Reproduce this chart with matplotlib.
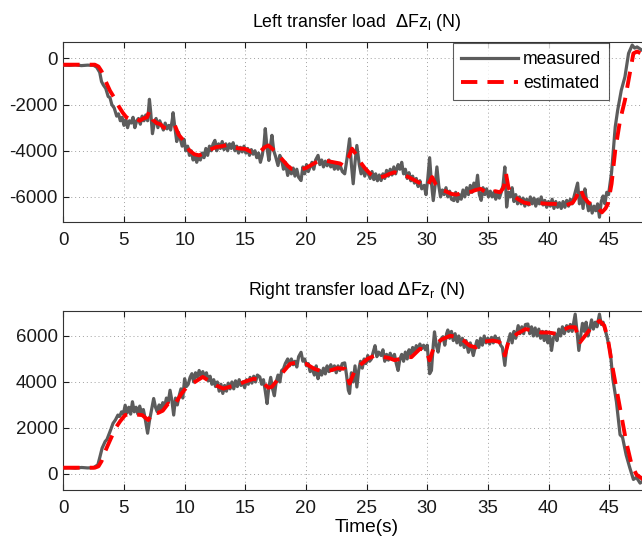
import numpy as np
import matplotlib
matplotlib.use("Agg")
import matplotlib.pyplot as plt

plt.rcParams["font.family"] = ["Liberation Sans", "DejaVu Sans"]
plt.rcParams["axes.unicode_minus"] = False

# (time [s], load [N]) samples of the left wheel transfer load
left_measured = [
    (0.0, -290), (0.5, -300), (1.0, -280), (1.5, -310), (2.0, -290), (2.5, -300),
    (2.75, -380), (3.0, -600), (3.15, -1000), (3.3, -1150), (3.5, -1300), (3.7, -1650),
    (3.85, -1700), (4.0, -2000), (4.2, -2150), (4.4, -2500), (4.55, -2400), (4.7, -2700),
    (4.85, -2550), (5.0, -2900), (5.15, -2650), (5.3, -3000), (5.45, -2700), (5.6, -2800),
    (5.75, -2550), (5.9, -3000), (6.05, -2700), (6.2, -2600), (6.35, -2850), (6.5, -2500),
    (6.65, -2700), (6.8, -2450), (6.95, -2700), (7.1, -1770), (7.2, -2300), (7.35, -3260),
    (7.5, -2800), (7.65, -2600), (7.8, -3000), (7.95, -2700), (8.1, -2900), (8.25, -3100),
    (8.4, -2800), (8.55, -3050), (8.7, -2900), (8.85, -3100), (9.0, -2600), (9.05, -2350),
    (9.2, -3000), (9.35, -3600), (9.5, -3200), (9.65, -3500), (9.8, -3800), (9.95, -3500),
    (10.1, -4000), (10.25, -3800), (10.4, -4200), (10.55, -4000), (10.7, -4400), (10.85, -4200),
    (11.0, -4500), (11.15, -4250), (11.3, -4400), (11.45, -4100), (11.6, -4300), (11.75, -3900),
    (11.9, -4200), (12.05, -3800), (12.2, -4000), (12.35, -3700), (12.5, -3550), (12.65, -4000),
    (12.8, -3700), (12.95, -3900), (13.1, -3600), (13.25, -3950), (13.4, -3700), (13.55, -4000),
    (13.7, -3700), (13.85, -3900), (14.0, -3650), (14.15, -4000), (14.3, -3800), (14.45, -4100),
    (14.6, -3850), (14.75, -4050), (14.9, -3800), (15.05, -4100), (15.2, -3900), (15.35, -4200),
    (15.5, -3950), (15.65, -4150), (15.8, -4000), (15.95, -4300), (16.1, -4100), (16.25, -4500),
    (16.4, -4200), (16.55, -3700), (16.65, -3040), (16.8, -3900), (16.95, -4420), (17.1, -3700),
    (17.2, -3330), (17.35, -4000), (17.5, -4250), (17.7, -4640), (17.85, -4200), (18.0, -4400),
    (18.15, -4800), (18.3, -4500), (18.5, -5070), (18.65, -4700), (18.8, -5000), (18.95, -4750),
    (19.1, -5100), (19.25, -4800), (19.4, -5150), (19.6, -5290), (19.75, -4700), (19.9, -5000),
    (20.05, -4600), (20.2, -4900), (20.35, -4700), (20.5, -4500), (20.65, -4800), (20.8, -4400),
    (21.0, -4200), (21.15, -4600), (21.3, -4400), (21.45, -4700), (21.6, -4450), (21.75, -4650),
    (21.9, -4400), (22.05, -4700), (22.2, -4500), (22.35, -4800), (22.5, -4550), (22.65, -4800),
    (22.8, -4600), (23.0, -4900), (23.2, -5000), (23.4, -4300), (23.6, -3480), (23.75, -4600),
    (23.9, -5430), (24.05, -4500), (24.2, -3770), (24.4, -4600), (24.55, -5000), (24.7, -4700),
    (24.85, -5100), (25.0, -4800), (25.15, -5000), (25.3, -5200), (25.45, -4900), (25.6, -5250),
    (25.75, -5000), (25.9, -5300), (26.05, -5050), (26.2, -5290), (26.35, -5000), (26.5, -5200),
    (26.65, -4850), (26.8, -5100), (26.95, -4800), (27.1, -5050), (27.25, -4700), (27.4, -5000),
    (27.6, -4600), (27.75, -4800), (27.9, -4500), (28.05, -5000), (28.2, -4800), (28.35, -5200),
    (28.5, -4950), (28.65, -5300), (28.8, -5100), (28.95, -5400), (29.1, -5200), (29.25, -5550),
    (29.4, -5300), (29.55, -5650), (29.75, -5500), (29.9, -5900), (30.05, -5200), (30.2, -4300),
    (30.35, -5400), (30.5, -6160), (30.65, -5500), (30.8, -4700), (30.95, -5500), (31.1, -6000),
    (31.25, -5700), (31.4, -5900), (31.55, -5600), (31.7, -6000), (31.85, -5750), (32.0, -6100),
    (32.2, -6160), (32.35, -5800), (32.5, -6200), (32.65, -5900), (32.8, -6100), (32.95, -5700),
    (33.1, -6000), (33.25, -5600), (33.4, -5900), (33.55, -5500), (33.7, -5800), (33.85, -5400),
    (34.0, -5700), (34.15, -5060), (34.3, -5900), (34.45, -6150), (34.6, -5600), (34.75, -5900),
    (34.9, -5650), (35.05, -6000), (35.2, -5750), (35.35, -6000), (35.5, -5800), (35.65, -6100),
    (35.8, -5850), (35.95, -6050), (36.1, -5800), (36.25, -5500), (36.4, -4700), (36.55, -6440),
    (36.7, -5800), (36.85, -6000), (37.0, -5600), (37.15, -6200), (37.3, -5900), (37.45, -6300),
    (37.6, -6000), (37.75, -6300), (37.9, -6050), (38.05, -6400), (38.2, -6100), (38.35, -6350),
    (38.5, -6000), (38.65, -6300), (38.8, -6050), (38.95, -6400), (39.1, -6100), (39.25, -6300),
    (39.4, -6000), (39.55, -6350), (39.7, -6150), (39.85, -6450), (40.0, -6200), (40.15, -6400),
    (40.3, -6100), (40.45, -6500), (40.6, -6200), (40.75, -6450), (40.9, -6250), (41.05, -6500),
    (41.2, -6200), (41.35, -6450), (41.5, -6150), (41.65, -6400), (41.8, -6100), (41.95, -6300),
    (42.1, -6000), (42.25, -5700), (42.4, -5400), (42.55, -6300), (42.7, -5800), (42.85, -6500),
    (43.0, -5650), (43.15, -6200), (43.3, -6600), (43.45, -6300), (43.6, -6700), (43.75, -6400),
    (43.9, -6600), (44.05, -6300), (44.2, -6880), (44.35, -6200), (44.5, -5960), (44.65, -6300),
    (44.8, -5800), (44.95, -5900), (45.2, -4930), (45.5, -2970), (45.7, -2250), (46.0, -1380),
    (46.3, -800), (46.6, 220), (46.9, 580), (47.1, 450), (47.3, 500), (47.7, 360), (48.3, 300),
]

left_estimated = [
    (0.0, -270), (2.6, -270), (2.9, -350), (3.15, -550), (3.5, -1000), (3.85, -1400),
    (4.2, -1700), (4.6, -2100), (4.9, -2350), (5.2, -2550), (5.6, -2650), (6.0, -2600),
    (6.3, -2700), (6.6, -2600), (6.9, -2550), (7.1, -2280), (7.35, -2650), (7.7, -2800),
    (8.0, -2850), (8.3, -3000), (8.6, -3040), (8.9, -2950), (9.2, -2900), (9.5, -3300),
    (9.9, -3550), (10.4, -3990), (10.8, -4150), (11.2, -4200), (11.6, -4100), (12.1, -3950),
    (12.6, -3840), (13.1, -3800), (13.5, -3750), (14.0, -3850), (14.5, -3900), (15.0, -3920),
    (15.5, -4050), (15.9, -4000), (16.3, -4000), (16.6, -3850), (16.9, -3770), (17.2, -3900),
    (17.6, -4100), (18.0, -4350), (18.5, -4650), (18.8, -4780), (19.2, -4800), (19.6, -4800),
    (20.0, -4750), (20.5, -4600), (21.0, -4450), (21.3, -4420), (21.8, -4450), (22.3, -4500),
    (22.8, -4550), (23.1, -4640), (23.5, -4300), (23.8, -3910), (24.2, -4200), (24.5, -4500),
    (24.9, -4780), (25.3, -5000), (25.7, -5140), (26.1, -5150), (26.5, -5100), (26.9, -5000),
    (27.3, -4930), (27.7, -5000), (28.1, -5050), (28.5, -5150), (29.0, -5290), (29.4, -5400),
    (29.8, -5550), (30.1, -5450), (30.4, -5140), (30.7, -5450), (31.0, -5650), (31.5, -5750),
    (32.0, -5870), (32.4, -5900), (32.8, -5850), (33.2, -5800), (33.6, -5780), (34.0, -5700),
    (34.4, -5650), (34.8, -5780), (35.2, -5850), (35.6, -5750), (36.0, -5800), (36.3, -5600),
    (36.5, -5000), (36.7, -5600), (37.0, -5900), (37.5, -6100), (38.0, -6250), (38.5, -6300),
    (39.0, -6250), (39.5, -6280), (40.0, -6300), (40.5, -6300), (41.0, -6350), (41.5, -6350),
    (42.0, -6250), (42.3, -6000), (42.6, -5610), (42.9, -6000), (43.3, -6250), (43.7, -6350),
    (44.1, -6500), (44.4, -6670), (44.7, -6500), (44.9, -6300), (45.2, -5430), (45.5, -3990),
    (45.9, -2680), (46.3, -1810), (46.7, -650), (47.0, 220), (47.3, 300), (47.7, 200), (48.3, 0),
]

# (time [s], load [N]) samples of the right wheel transfer load
right_measured = [
    (0.0, 260), (0.5, 270), (1.0, 250), (1.5, 280), (2.0, 260), (2.5, 270),
    (2.85, 400), (3.0, 700), (3.2, 1120), (3.45, 1410), (3.6, 1500), (3.85, 1840),
    (4.1, 2200), (4.3, 2350), (4.5, 2560), (4.65, 2500), (4.8, 2700), (4.95, 2600),
    (5.1, 2990), (5.25, 2650), (5.4, 2900), (5.55, 2600), (5.7, 3140), (5.85, 2700),
    (6.0, 2900), (6.15, 2600), (6.3, 2950), (6.45, 2650), (6.6, 2800), (6.75, 2400),
    (6.95, 1770), (7.1, 2300), (7.3, 2850), (7.45, 3280), (7.6, 2900), (7.75, 2700),
    (7.9, 3000), (8.05, 2800), (8.2, 3100), (8.35, 2900), (8.5, 3300), (8.65, 3100),
    (8.8, 3640), (8.95, 3200), (9.1, 2560), (9.25, 3300), (9.4, 3000), (9.55, 3400),
    (9.7, 3700), (9.85, 3300), (10.0, 4140), (10.15, 3800), (10.3, 3900), (10.45, 4200),
    (10.6, 4360), (10.75, 4000), (10.9, 4400), (11.05, 4200), (11.2, 4500), (11.35, 4250),
    (11.5, 4450), (11.65, 4200), (11.8, 4400), (11.95, 4050), (12.1, 4250), (12.25, 3900),
    (12.4, 4100), (12.55, 3800), (12.7, 4000), (12.85, 3600), (13.0, 3900), (13.15, 3500),
    (13.3, 3850), (13.45, 3600), (13.6, 3950), (13.75, 3700), (13.9, 4000), (14.05, 3700),
    (14.2, 4050), (14.35, 3800), (14.5, 4100), (14.65, 3850), (14.8, 4000), (14.95, 3750),
    (15.1, 4100), (15.25, 3900), (15.4, 4200), (15.55, 3950), (15.7, 4250), (15.85, 4000),
    (16.0, 4300), (16.2, 4220), (16.35, 3900), (16.5, 4100), (16.65, 3600), (16.8, 3060),
    (16.95, 3800), (17.1, 4200), (17.25, 3700), (17.4, 3400), (17.55, 4000), (17.7, 4300),
    (17.85, 4000), (18.0, 4500), (18.15, 4570), (18.3, 4800), (18.5, 5000), (18.65, 4700),
    (18.8, 5000), (18.95, 4750), (19.1, 4900), (19.25, 4650), (19.4, 5100), (19.6, 5290),
    (19.75, 4900), (19.9, 5000), (20.05, 4700), (20.2, 4800), (20.35, 4450), (20.5, 4600),
    (20.7, 4300), (20.85, 4700), (21.0, 4140), (21.15, 4500), (21.3, 4300), (21.45, 4600),
    (21.6, 4350), (21.75, 4700), (21.9, 4450), (22.05, 4750), (22.2, 4500), (22.35, 4700),
    (22.5, 4400), (22.65, 4700), (22.8, 4500), (23.0, 4800), (23.2, 4830), (23.35, 4300),
    (23.5, 3640), (23.6, 3500), (23.75, 4400), (23.9, 4000), (24.05, 4700), (24.2, 3780),
    (24.35, 4500), (24.5, 4900), (24.65, 4600), (24.8, 5000), (24.95, 4800), (25.1, 5150),
    (25.25, 4900), (25.4, 5000), (25.55, 5300), (25.7, 5580), (25.85, 5100), (26.0, 5300),
    (26.2, 5150), (26.35, 5400), (26.5, 4900), (26.65, 5200), (26.8, 4950), (26.95, 5250),
    (27.1, 5000), (27.3, 5200), (27.45, 4800), (27.6, 4500), (27.75, 5000), (27.9, 5200),
    (28.05, 4900), (28.2, 5300), (28.35, 5000), (28.5, 5400), (28.65, 5200), (28.8, 5500),
    (28.95, 5300), (29.1, 5580), (29.25, 5400), (29.4, 5650), (29.55, 5450), (29.7, 5600),
    (29.85, 5400), (30.0, 5600), (30.2, 4360), (30.35, 4500), (30.5, 5600), (30.6, 6180),
    (30.75, 5600), (30.9, 5300), (31.05, 5800), (31.3, 5970), (31.45, 5600), (31.6, 6100),
    (31.7, 6260), (31.85, 5900), (32.0, 6200), (32.15, 5800), (32.3, 6100), (32.45, 5700),
    (32.6, 6000), (32.75, 5600), (32.9, 5900), (33.05, 5500), (33.2, 5800), (33.4, 5290),
    (33.55, 5700), (33.8, 5150), (33.95, 5500), (34.1, 5800), (34.25, 5500), (34.4, 5900),
    (34.55, 5600), (34.7, 6000), (34.85, 5700), (35.0, 5900), (35.15, 5650), (35.3, 5940),
    (35.45, 5700), (35.6, 6000), (35.75, 5800), (35.9, 5900), (36.05, 5600), (36.2, 5500),
    (36.4, 4720), (36.55, 5500), (36.7, 5800), (36.85, 6100), (37.0, 5700), (37.15, 6200),
    (37.3, 5900), (37.5, 6450), (37.65, 6100), (37.8, 6400), (37.95, 6100), (38.1, 6500),
    (38.3, 6520), (38.45, 6100), (38.6, 6400), (38.75, 6000), (38.9, 6350), (39.05, 6000),
    (39.2, 6300), (39.35, 5900), (39.5, 6200), (39.65, 5800), (39.8, 6200), (39.95, 5700),
    (40.1, 6000), (40.25, 5370), (40.4, 5900), (40.55, 6100), (40.7, 5800), (40.85, 6300),
    (41.0, 6000), (41.15, 6400), (41.3, 6100), (41.5, 6450), (41.65, 6200), (41.8, 6500),
    (41.95, 6200), (42.2, 6950), (42.35, 6200), (42.5, 5370), (42.65, 6000), (42.8, 6550),
    (42.95, 6200), (43.1, 6600), (43.25, 6000), (43.4, 6300), (43.55, 6700), (43.7, 6300),
    (43.85, 6600), (44.0, 6400), (44.2, 6950), (44.35, 6500), (44.5, 6600), (44.8, 6010),
    (45.1, 5290), (45.3, 4140), (45.6, 3140), (45.9, 1700), (46.1, 1600), (46.4, 830),
    (46.7, 270), (47.0, -240), (47.25, -150), (47.55, -400), (47.8, -300), (48.3, -400),
]

right_estimated = [
    (0.0, 270), (2.6, 270), (2.9, 330), (3.15, 550), (3.45, 980), (3.8, 1400),
    (4.3, 1990), (4.7, 2300), (5.1, 2560), (5.5, 2600), (6.0, 2580), (6.5, 2560),
    (7.0, 2340), (7.4, 2700), (7.8, 2650), (8.2, 2750), (8.65, 3060), (9.1, 2950),
    (9.4, 3200), (9.75, 3500), (10.3, 3850), (10.85, 4000), (11.5, 4220), (12.0, 4050),
    (12.6, 3850), (13.2, 3710), (13.8, 3800), (14.3, 3850), (14.9, 4000), (15.7, 4140),
    (16.2, 4080), (16.6, 3900), (16.9, 3750), (17.2, 3790), (17.6, 4050), (18.0, 4360),
    (18.7, 4790), (19.3, 4850), (20.0, 4790), (20.7, 4570), (21.4, 4450), (22.0, 4500),
    (22.6, 4600), (23.2, 4570), (23.6, 3930), (24.0, 4450), (24.5, 4750), (25.1, 5010),
    (25.7, 5150), (26.2, 5100), (26.8, 5050), (27.3, 4950), (27.8, 5000), (28.3, 5080),
    (28.7, 5080), (29.4, 5440), (29.9, 5400), (30.2, 4940), (30.6, 5600), (31.2, 5850),
    (31.9, 6010), (32.5, 5950), (33.0, 5800), (33.5, 5580), (34.0, 5500), (34.6, 5750),
    (35.4, 5800), (35.9, 5750), (36.2, 5600), (36.4, 5150), (36.7, 5750), (37.4, 6090),
    (38.1, 6300), (38.8, 6230), (39.4, 6150), (40.0, 6150), (40.6, 6100), (41.1, 6240),
    (41.7, 6380), (42.2, 6380), (42.6, 5730), (43.0, 6000), (43.5, 6350), (44.2, 6660),
    (44.6, 6450), (44.9, 5870), (45.2, 4860), (45.6, 3710), (46.0, 2560), (46.4, 1410),
    (46.85, 400), (47.25, -30), (47.7, -200), (48.3, -350),
]

time_ticks = [0, 5, 10, 15, 20, 25, 30, 35, 40, 45]
left_ticks = [-6000, -4000, -2000, 0]
right_ticks = [0, 2000, 4000, 6000]

W, H = 642, 538
fig = plt.figure(figsize=(W / 100, H / 100), dpi=100)
ax1 = fig.add_axes([63.3 / W, 1 - 222.3 / H, 606.5 / W, 180 / H])
ax2 = fig.add_axes([63.3 / W, 1 - 490 / H, 606.5 / W, 179.3 / H])


def draw_panel(ax, measured, estimated, ylim, yticks, title):
    tm, vm = np.array(measured).T
    te, ve = np.array(estimated).T
    ax.plot(tm, vm, color="#5c5c5c", lw=2.3, label="measured", zorder=3)
    ax.plot(te, ve, color="#ff0000", lw=2.8, ls=(0, (4.2, 2.6)),
            label="estimated", zorder=4)
    ax.set_xlim(0, 50)
    ax.set_ylim(*ylim)
    ax.set_xticks(time_ticks)
    ax.set_yticks(yticks)
    ax.grid(True, ls=(0, (1, 3)), color="#a0a0a0", lw=0.7)
    ax.tick_params(direction="in", top=True, right=True, length=4,
                   labelsize=13.5, colors="#1a1a1a", pad=4)
    ax.tick_params(axis="x", pad=7)
    for s in ax.spines.values():
        s.set_color("#333333")
        s.set_linewidth(0.8)
    ax.set_title(title, fontsize=12.8, x=0.484, pad=11)


draw_panel(ax1, left_measured, left_estimated, (-7100, 700), left_ticks,
           r"Left transfer load  $\Delta$Fz$_\mathregular{l}$ (N)")
draw_panel(ax2, right_measured, right_estimated, (-700, 7100), right_ticks,
           r"Right transfer load $\Delta$Fz$_\mathregular{r}$ (N)")
ax2.set_xlabel("Time(s)", fontsize=13.8, labelpad=2)

leg = ax1.legend(loc="upper right", bbox_to_anchor=(609 / W, 1 - 43 / H),
                 bbox_transform=fig.transFigure, fontsize=12.7, frameon=True,
                 fancybox=False, borderaxespad=0, borderpad=0.45,
                 handlelength=3.2, handletextpad=0.3, labelspacing=0.4)
leg.get_frame().set_edgecolor("#333333")
leg.get_frame().set_linewidth(0.8)

fig.savefig("out.png", dpi=100)
